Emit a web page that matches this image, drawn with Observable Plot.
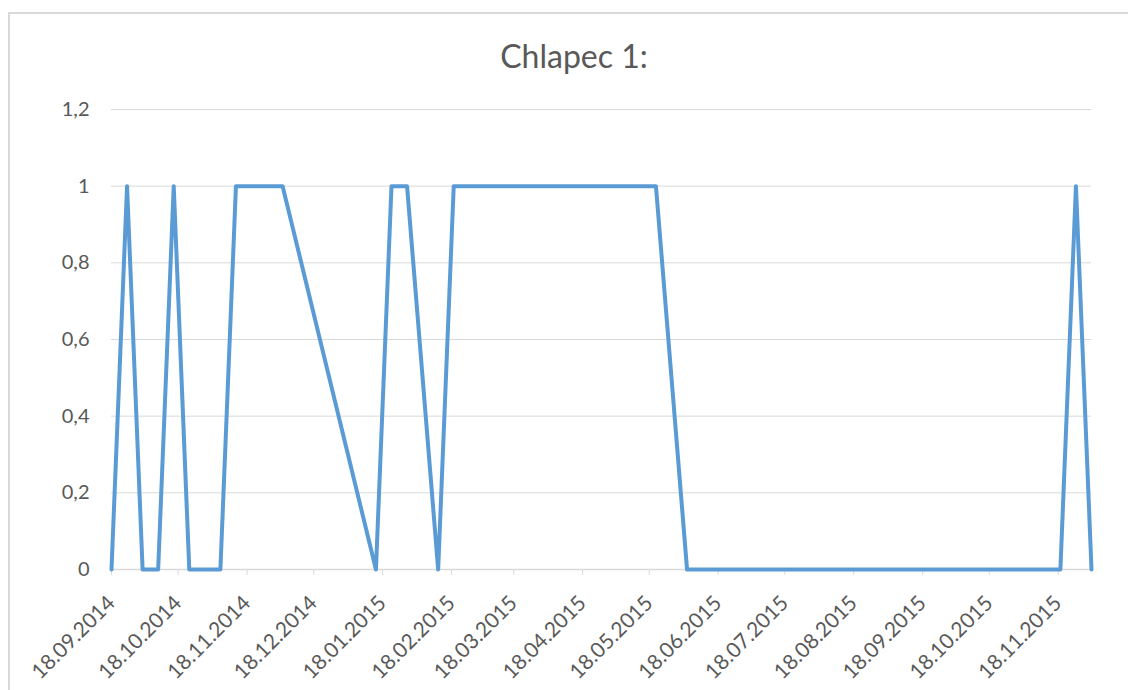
<!DOCTYPE html>
<html>
<head>
<meta charset="utf-8">
<script src="https://cdn.jsdelivr.net/npm/d3@7"></script>
<script src="https://cdn.jsdelivr.net/npm/@observablehq/plot@0.6"></script>
<style>
  html, body { margin: 0; padding: 0; background: #fff; overflow: hidden; }
  #wrap { position: relative; width: 1128px; height: 690px; }
  #border { position: absolute; left: 8px; top: 12px; width: 1130px; height: 690px;
            border-left: 2px solid #d9d9d9; border-top: 2px solid #d9d9d9; }
  #title { position: absolute; left: 0; width: 1148px; top: 35px; text-align: center;
           font-family: Lato, "Open Sans", sans-serif; font-size: 32px; color: #595959;
           line-height: 42px; }
  #chart { position: absolute; left: 0; top: 0; }
</style>
</head>
<body>
<div id="wrap">
  <div id="border"></div>
  <div id="chart"></div>
  <div id="title">Chlapec 1:</div>
</div>
<script>
const dates = ["18.09.2014","25.09.2014","02.10.2014","09.10.2014","16.10.2014","23.10.2014",
  "06.11.2014","13.11.2014","04.12.2014","15.01.2015","22.01.2015","29.01.2015","12.02.2015",
  "19.02.2015","21.05.2015","04.06.2015","19.11.2015","26.11.2015","03.12.2015"];
const values = [0,1,0,0,1,0,0,1,1,0,1,1,0,1,1,0,0,1,0];
const xTickLabels = ["18.09.2014","18.10.2014","18.11.2014","18.12.2014","18.01.2015","18.02.2015",
  "18.03.2015","18.04.2015","18.05.2015","18.06.2015","18.07.2015","18.08.2015","18.09.2015",
  "18.10.2015","18.11.2015"];
const yTicks = [0, 0.2, 0.4, 0.6, 0.8, 1, 1.2];

const parse = d3.utcParse("%d.%m.%Y");
const fmt = d3.utcFormat("%d.%m.%Y");
const data = dates.map((d, i) => ({date: parse(d), value: values[i]}));
const xTicks = xTickLabels.map(parse);

const chart = Plot.plot({
  width: 1128,
  height: 690,
  marginLeft: 111,
  marginRight: 37,
  marginTop: 109,
  marginBottom: 121,
  style: {fontFamily: "Lato, 'Open Sans', sans-serif", color: "#595959", background: "transparent"},
  x: {type: "utc", domain: [parse(dates[0]), parse(dates[dates.length - 1])]},
  y: {domain: [0, 1.2]},
  marks: [
    Plot.gridY(yTicks, {stroke: "#d9d9d9", strokeOpacity: 1, strokeWidth: 1}),
    Plot.axisY(yTicks, {tickSize: 0, tickPadding: 22, fontSize: 20, fill: "#595959",
      tickFormat: d => String(d).replace(".", ","), label: null}),
    Plot.ruleY([0], {stroke: "#d9d9d9", strokeWidth: 1.5}),
    Plot.axisX(xTicks, {tickSize: 6, stroke: "#d9d9d9", strokeOpacity: 1, tickPadding: 24,
      tickRotate: -45, fontSize: 21, fill: "#595959", tickFormat: fmt, label: null}),
    Plot.line(data, {x: "date", y: "value", stroke: "#5b9bd5", strokeWidth: 4,
      strokeLinejoin: "round", strokeLinecap: "round"})
  ]
});
document.getElementById("chart").appendChild(chart);
</script>
</body>
</html>
